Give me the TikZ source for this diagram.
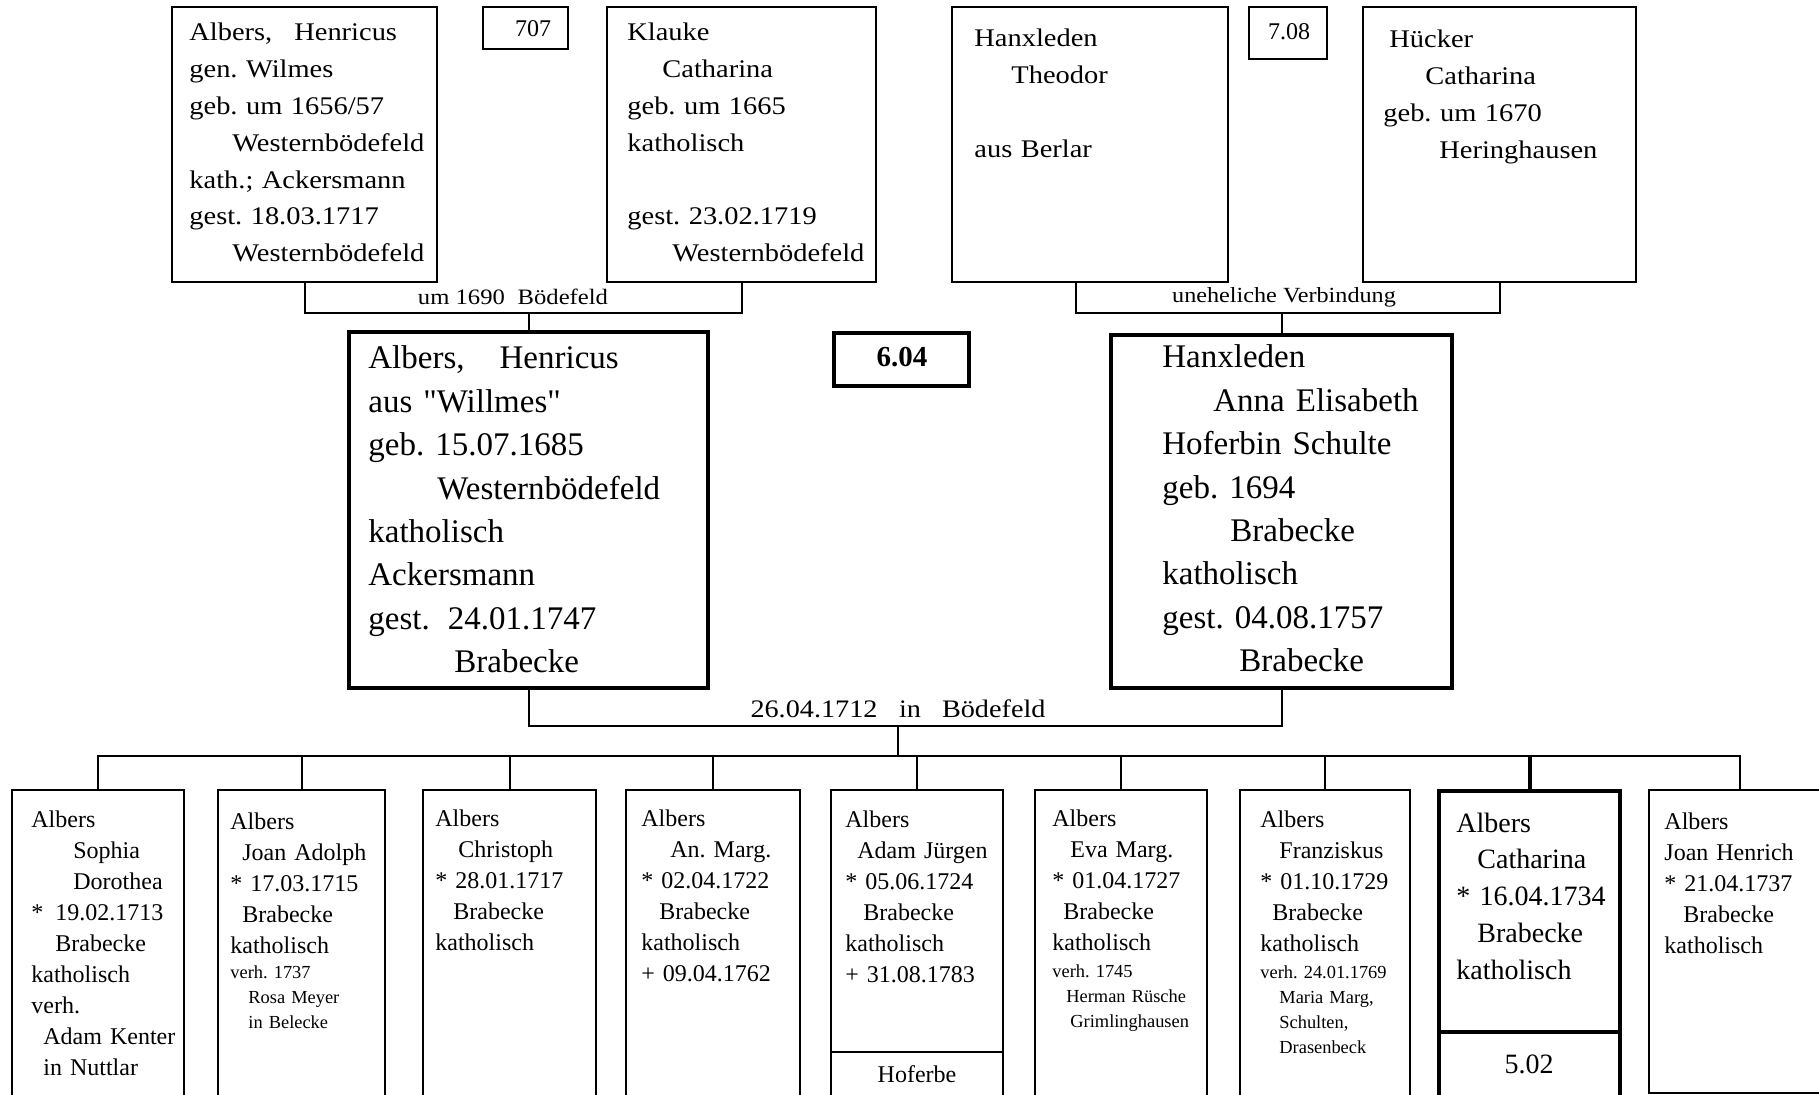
\documentclass[tikz,border=0pt]{standalone}
\usepackage{fontspec}
\setmainfont{Liberation Serif}
\newfontfamily\widefont{Liberation Serif}[FakeStretch=1.12]
\newfontfamily\qfont{Liberation Serif}
\usetikzlibrary{fit}
\frenchspacing

\begin{document}
\begin{tikzpicture}[x=0.5pt,y=-0.5pt,
  pbox/.style={draw,line width=1pt,inner sep=0pt},
  heavy/.style={draw,line width=2pt,inner sep=0pt},
  link/.style={line width=1pt},
  txt/.style={inner sep=0pt,text width=220pt,align=left,anchor=base west},
  toptxt/.style={txt,font=\widefont\fontsize{12.7}{18.4}\selectfont},
  maintxt/.style={txt,font=\fontsize{16.5}{21.7}\selectfont},
  kidtxt/.style={txt,font=\fontsize{12}{15.5}\selectfont},
  smalltxt/.style={txt,font=\fontsize{9.2}{12.5}\selectfont},
  cattxt/.style={txt,font=\fontsize{14}{18.4}\selectfont},
  lbl/.style={inner sep=0pt,anchor=base}]
\useasboundingbox (0,0) rectangle (1819,1095);
\clip (0,0) rectangle (1819,1095);

\node[pbox,fit={(172,7) (437,282)}] (gfA) {};
\node[toptxt] (gfAt) at (189,41) {Albers,\hspace{11pt}Henricus\\ gen. Wilmes\\ geb. um 1656/57\\ \hspace*{21.5pt}Westernbödefeld\\ kath.; Ackersmann\\ gest. 18.03.1717\\ \hspace*{21.5pt}Westernbödefeld};
\node[pbox,fit={(483,7) (568,49)}] (n707) {};
\node[lbl,font=\fontsize{12}{14}\selectfont] (n707t) at (533,37) {707};
\node[pbox,fit={(607,7) (876,282)}] (gmA) {};
\node[toptxt] (gmAt) at (627,41) {Klauke\\ \hspace*{17.5pt}Catharina\\ geb. um 1665\\ katholisch\\ \mbox{}\\ gest. 23.02.1719\\ \hspace*{22.5pt}Westernbödefeld};

\node[pbox,fit={(952,7) (1228,282)}] (gfH) {};
\node[toptxt] (gfHt) at (974,47) {Hanxleden\\ \hspace*{18.5pt}Theodor\\ \mbox{}\\ aus Berlar};
\node[pbox,fit={(1249,7) (1327,59)}] (n708) {};
\node[lbl,font=\fontsize{12}{14}\selectfont] (n708t) at (1289,40) {7.08};
\node[pbox,fit={(1363,7) (1636,282)}] (gmH) {};
\node[toptxt] (gmHt) at (1383,48) {\hspace*{3pt}Hücker\\ \hspace*{21pt}Catharina\\ geb. um 1670\\ \hspace*{28pt}Heringhausen};

\node[heavy,fit={(349,332) (708,688)}] (father) {};
\node[maintxt] (fatherT) at (368,369) {Albers,\hspace{17.5pt}Henricus\\ {\qfont aus "Willmes"}\\ geb. 15.07.1685\\ \hspace*{34.5pt}Westernbödefeld\\ katholisch\\ Ackersmann\\ gest.\hspace{9pt}24.01.1747\\ \hspace*{43pt}Brabecke};
\node[heavy,fit={(834,333) (969,386)}] (n604) {};
\node[lbl,font=\bfseries\fontsize{14.5}{17}\selectfont] (n604t) at (902,367) {6.04};
\node[heavy,fit={(1111,335) (1452,688)}] (mother) {};
\node[maintxt] (motherT) at (1162,368) {Hanxleden\\ \hspace*{25.5pt}Anna Elisabeth\\ Hoferbin Schulte\\ geb. 1694\\ \hspace*{34pt}Brabecke\\ katholisch\\ gest. 04.08.1757\\ \hspace*{38.5pt}Brabecke};

\coordinate (lvl1) at (0,313);
\draw[link] (gfA.south) |- (father.north |- lvl1) -| (gmA.south);
\draw[link] (father.north |- lvl1) -- (father.north);
\node[lbl,font=\widefont\fontsize{11}{13}\selectfont] (w1) at (513,305) {um 1690\hspace{6.4pt}Bödefeld};
\draw[link] ([xshift=-7pt]gfH.south) |- (mother.north |- lvl1) -| (gmH.south);
\draw[link] (mother.north |- lvl1) -- (mother.north);
\node[lbl,font=\widefont\fontsize{10.8}{13}\selectfont] (w2) at (1284,303) {uneheliche Verbindung};

\node[pbox,fit={(12,790) (184,1110)}] (k1) {};
\node[kidtxt] (k1t) at (31,827) {Albers\\ \hspace*{21pt}Sophia\\ \hspace*{21pt}Dorothea\\ {*}\hspace{6pt}19.02.1713\\ \hspace*{12pt}Brabecke\\ katholisch\\ verh.\\ \hspace*{6pt}Adam Kenter\\ \hspace*{6pt}in Nuttlar};
\node[pbox,fit={(218,790) (385,1110)}] (k2) {};
\node[kidtxt] (k2t) at (230,829) {Albers\\ \hspace*{6pt}Joan Adolph\\ {*} 17.03.1715\\ \hspace*{6pt}Brabecke\\ katholisch};
\node[smalltxt] (k2s) at (230,978) {verh. 1737\\ \hspace*{9pt}Rosa Meyer\\ \hspace*{9pt}in Belecke};
\node[pbox,fit={(423,790) (596,1110)}] (k3) {};
\node[kidtxt] (k3t) at (435,826) {Albers\\ \hspace*{11.5pt}Christoph\\ {*} 28.01.1717\\ \hspace*{9pt}Brabecke\\ katholisch};
\node[pbox,fit={(626,790) (800,1110)}] (k4) {};
\node[kidtxt] (k4t) at (641,826) {Albers\\ \hspace*{14.5pt}An. Marg.\\ {*} 02.04.1722\\ \hspace*{9pt}Brabecke\\ katholisch\\ + 09.04.1762};
\node[pbox,fit={(831,790) (1003,1110)}] (k5) {};
\node[kidtxt] (k5t) at (845,827) {Albers\\ \hspace*{6pt}Adam Jürgen\\ {*} 05.06.1724\\ \hspace*{9pt}Brabecke\\ katholisch\\ + 31.08.1783};
\node[lbl,font=\fontsize{12}{14}\selectfont] (hof) at (917,1082) {Hoferbe};
\node[pbox,fit={(1035,790) (1207,1110)}] (k6) {};
\node[kidtxt] (k6t) at (1052,826) {Albers\\ \hspace*{9pt}Eva Marg.\\ {*} 01.04.1727\\ \hspace*{5.5pt}Brabecke\\ katholisch};
\node[smalltxt] (k6s) at (1052,977) {verh. 1745\\ \hspace*{7pt}Herman Rüsche\\ \hspace*{9pt}Grimlinghausen};
\node[pbox,fit={(1240,790) (1410,1110)}] (k7) {};
\node[kidtxt] (k7t) at (1260,827) {Albers\\ \hspace*{9.5pt}Franziskus\\ {*} 01.10.1729\\ \hspace*{6pt}Brabecke\\ katholisch};
\node[smalltxt] (k7s) at (1260,978) {verh. 24.01.1769\\ \hspace*{9.5pt}Maria Marg,\\ \hspace*{9.5pt}Schulten,\\ \hspace*{9.5pt}Drasenbeck};
\node[heavy,fit={(1439,791) (1620,1110)}] (k8) {};
\node[cattxt] (k8t) at (1456,832) {Albers\\ \hspace*{10.5pt}Catharina\\ {*} 16.04.1734\\ \hspace*{10.5pt}Brabecke\\ katholisch};
\node[lbl,font=\fontsize{14}{16}\selectfont] (k8n) at (1529,1073) {5.02};
\node[pbox,fit={(1649,790) (1830,1093)}] (k9) {};
\node[kidtxt] (k9t) at (1664,829) {Albers\\ Joan Henrich\\ {*} 21.04.1737\\ \hspace*{9.5pt}Brabecke\\ katholisch};

\coordinate (hofY) at (0,1052);
\draw[link] (k5.west |- hofY) -- (k5.east |- hofY);
\coordinate (catY) at (0,1032);
\draw[line width=2pt] (k8.west |- catY) -- (k8.east |- catY);

\coordinate (wed) at (898,726);
\coordinate (bus) at (0,756);
\draw[link] (father.south) |- (wed) -| (mother.south);
\node[lbl,font=\widefont\fontsize{12.6}{15}\selectfont] (wedT) at (898,717) {26.04.1712\hspace{10.8pt}in\hspace{10.5pt}Bödefeld};
\draw[link] (wed) -- (wed |- bus);
\draw[link] (k1.north) |- (bus -| k9.north) -- (k9.north);
\foreach \k in {k2,k3,k4,k5,k6,k7}
  \draw[link] (\k.north) -- (\k.north |- bus);
\draw[line width=2pt] (k8.north) -- (k8.north |- bus);
\end{tikzpicture}
\end{document}
